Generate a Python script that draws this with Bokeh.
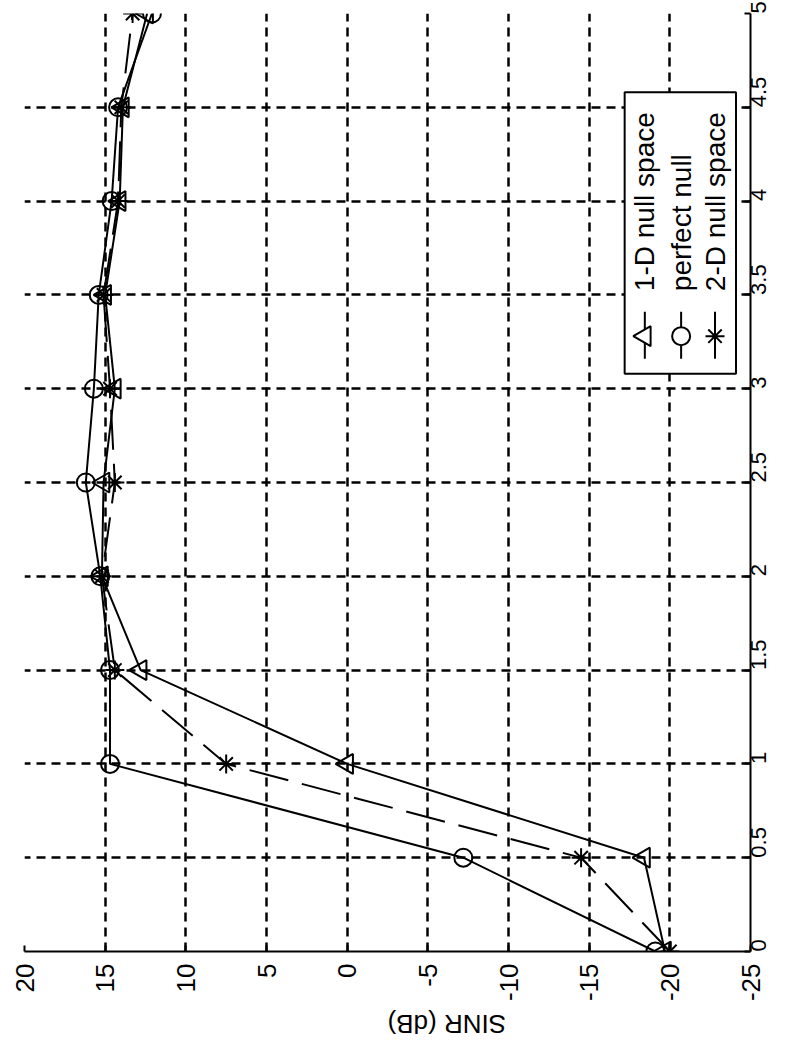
from math import pi
from bokeh.plotting import figure
from bokeh.models import Range1d
from bokeh.core.properties import value
from bokeh.embed import file_html
from bokeh.resources import INLINE

# ---- data ----
delay = [0, 0.5, 1, 1.5, 2, 2.5, 3, 3.5, 4, 4.5, 5]
one_d_null = [-19.7, -18.4, 0.0, 12.8, 15.2, 15.1, 14.4, 15.0, 14.1, 13.9, 12.4]
perfect_null = [-19.1, -7.2, 14.7, 14.7, 15.3, 16.2, 15.7, 15.4, 14.6, 14.2, 12.1]
two_d_null = [-20.0, -14.5, 7.5, 14.4, 15.2, 14.4, 14.7, 15.1, 14.2, 14.0, 13.3]
series_names = ["1-D null space", "perfect null", "2-D null space"]

sinr_ticks = [-25, -20, -15, -10, -5, 0, 5, 10, 15, 20]
delay_ticks = [0, 0.5, 1, 1.5, 2, 2.5, 3, 3.5, 4, 4.5, 5]
delay_tick_labels = ["0", "0.5", "1", "1.5", "2", "2.5", "3", "3.5", "4", "4.5", "5"]
axis_label_text = "SINR (dB)"

FONT = "Liberation Sans"

p = figure(width=788, height=1057,
           x_range=Range1d(20, -25), y_range=Range1d(0, 5),
           x_axis_location="below", y_axis_location="right",
           output_backend="svg", toolbar_location=None,
           min_border_left=24, min_border_top=13,
           min_border_right=38, min_border_bottom=103)
p.outline_line_color = None
p.background_fill_color = "white"
p.border_fill_color = "white"

xax = p.xaxis[0]
yax = p.yaxis[0]

# axes
for ax, fs in ((xax, "26px"), (yax, "22px")):
    ax.axis_line_color = "black"
    ax.axis_line_width = 2
    ax.major_tick_in = 6
    ax.major_tick_out = 0
    ax.major_tick_line_width = 2
    ax.major_tick_line_color = "black"
    ax.minor_tick_line_color = None
    ax.major_label_text_font = FONT
    ax.major_label_text_font_size = fs
    ax.major_label_text_color = "black"
    ax.major_label_orientation = pi / 2

xax.ticker = sinr_ticks
xax.major_label_overrides = {t: str(t) for t in sinr_ticks}
xax.major_label_standoff = 12
xax.axis_label = axis_label_text
xax.axis_label_text_font = FONT
xax.axis_label_text_font_size = "26px"
xax.axis_label_text_font_style = "normal"
xax.axis_label_text_color = "black"
xax.axis_label_standoff = 20
if "axis_label_orientation" in xax.properties():
    xax.axis_label_orientation = pi

yax.ticker = delay_ticks
yax.major_label_overrides = {t: lab for t, lab in zip(delay_ticks, delay_tick_labels)}
yax.major_label_standoff = 8

# grid
for g in (p.xgrid[0], p.ygrid[0]):
    g.grid_line_color = "black"
    g.grid_line_width = 2.5
    g.grid_line_dash = "9 6"
    g.grid_line_alpha = 1.0

# series
p.line(one_d_null, delay, line_color="black", line_width=2)
p.line(perfect_null, delay, line_color="black", line_width=2)
p.line(two_d_null, delay, line_color="black", line_width=2, line_dash="40 14")

p.scatter(one_d_null, delay, marker="triangle", angle=pi / 2, size=20,
          fill_color=None, line_color="black", line_width=2)
p.scatter(perfect_null, delay, marker="circle", size=18,
          fill_color=None, line_color="black", line_width=2)
p.scatter(two_d_null, delay, marker="asterisk", size=19,
          line_color="black", line_width=2)

# legend drawn manually (rotated)
box_left, box_right, box_bottom, box_top = -17.2, -24.1, 3.08, 4.58
p.quad(left=[box_left], right=[box_right], bottom=[box_bottom], top=[box_top],
       fill_color="white", line_color="black", line_width=2)
col_x = [-18.45, -20.7, -22.8]
text_y = 3.52
mark_y = 3.28
seg_y0, seg_y1 = 3.16, 3.41
markers = ["triangle", "circle", "asterisk"]
for cx, name, mk in zip(col_x, series_names, markers):
    p.line([cx, cx], [seg_y0, seg_y1], line_color="black", line_width=2)
    if mk == "triangle":
        p.scatter([cx], [mark_y], marker=mk, angle=pi / 2, size=20,
                  fill_color="white", line_color="black", line_width=2)
    elif mk == "circle":
        p.scatter([cx], [mark_y], marker=mk, size=18,
                  fill_color="white", line_color="black", line_width=2)
    else:
        p.scatter([cx], [mark_y], marker=mk, size=19, line_color="black", line_width=2)
    p.text([cx], [text_y], text=[name], angle=pi / 2,
           text_align="left", text_baseline="middle",
           text_font=value(FONT), text_font_size="28px", text_color="black")

open("out.html", "w").write(file_html(p, INLINE))
